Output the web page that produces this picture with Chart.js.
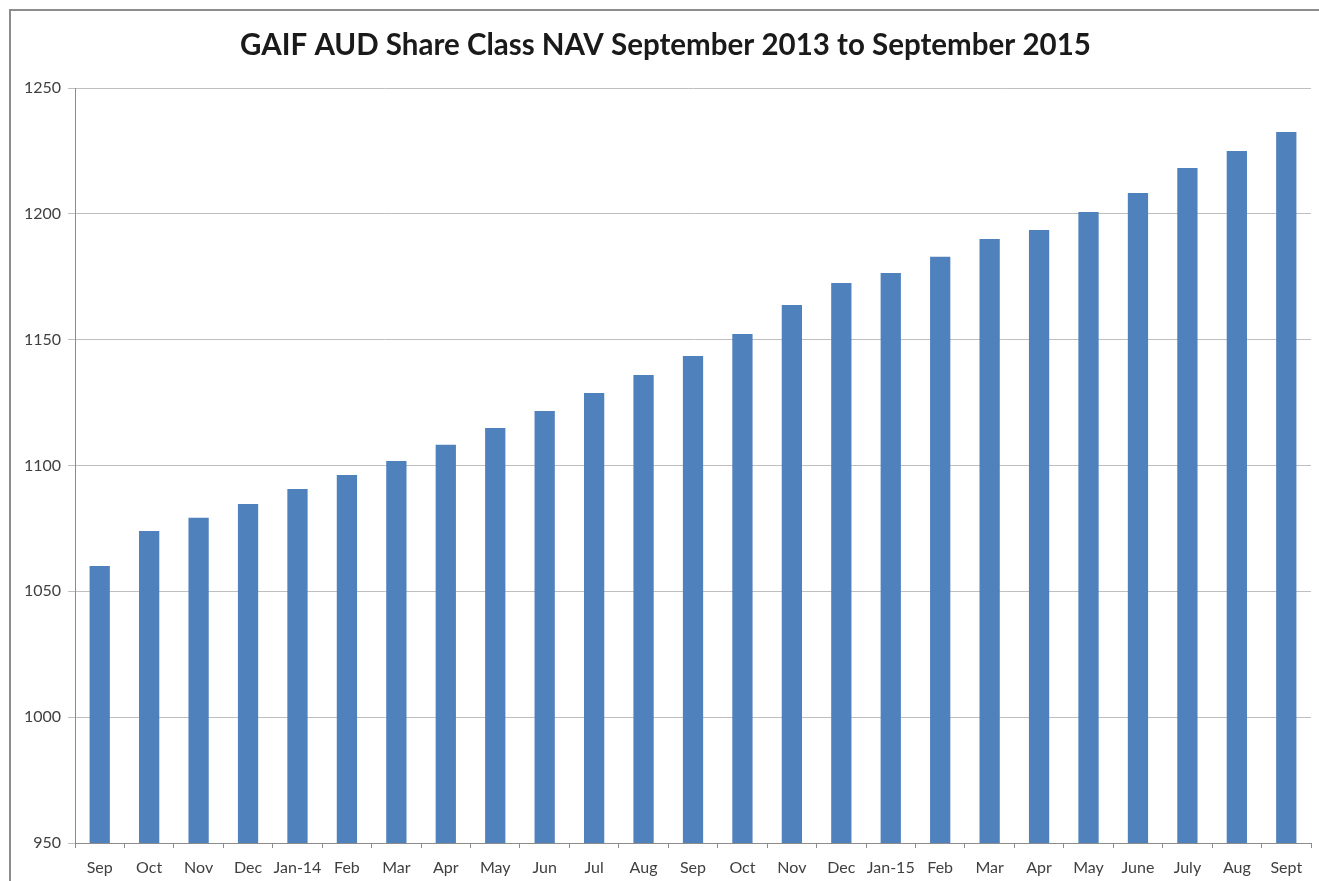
<!DOCTYPE html>
<html>
<head>
<meta charset="utf-8">
<script src="https://cdn.jsdelivr.net/npm/chart.js@4"></script>
<style>
  body { margin: 0; background: #fff; }
  #wrap { position: relative; width: 1319px; height: 881px; }
  #frame { position: absolute; left: 9px; top: 9px; right: -5px; bottom: -5px;
           border-left: 2px solid #8c8c8c; border-top: 2px solid #8c8c8c; pointer-events: none; }
</style>
</head>
<body>
<div id="wrap">
  <canvas id="nav" width="1319" height="881"></canvas>
  <div id="frame"></div>
</div>
<script>
const months = ['Sep', 'Oct', 'Nov', 'Dec', 'Jan-14', 'Feb', 'Mar', 'Apr', 'May', 'Jun', 'Jul', 'Aug',
                'Sep', 'Oct', 'Nov', 'Dec', 'Jan-15', 'Feb', 'Mar', 'Apr', 'May', 'June', 'July', 'Aug', 'Sept'];
const nav_values = [1060.1, 1074, 1079.2, 1084.7, 1090.7, 1096.2, 1101.8, 1108.2, 1114.9, 1121.7, 1128.8, 1136,
                    1143.5, 1152.3, 1163.8, 1172.5, 1176.5, 1182.9, 1190, 1193.6, 1200.7, 1208.3, 1218.2, 1225, 1232.5];
const y_min = 950;
const y_max = 1250;
const y_step = 50;

const tickFont = { family: 'Lato', size: 16 };

const config_nav = {
    type: 'bar',
    data: {
        labels: months,
        datasets: [
            {
                label: 'NAV',
                data: nav_values,
                backgroundColor: '#4f81bd',
                borderWidth: 0,
                barPercentage: 0.41,
                categoryPercentage: 1.0,
            }
        ]
    },
    options: {
        responsive: false,
        animation: false,
        // a bit of left padding nudges the centred title right; y axis width makes up the rest
        layout: { padding: { left: 20, right: 8, top: 0, bottom: 0 } },
        plugins: {
            legend: { display: false },
            tooltip: { enabled: false },
            title: {
                display: true,
                text: 'GAIF AUD Share Class NAV September 2013 to September 2015',
                color: '#1a1a1a',
                font: { family: 'Lato', size: 29.5, weight: 'bold' },
                padding: { top: 28, bottom: 24.6 },
            }
        },
        scales: {
            x: {
                grid: { drawOnChartArea: false, drawTicks: true, tickLength: 5, color: '#8c8c8c' },
                border: { color: '#8c8c8c', width: 1 },
                ticks: { color: '#404040', font: tickFont, padding: 10, maxRotation: 0, autoSkip: false },
                afterFit(scale) { scale.height = 38; },
            },
            y: {
                min: y_min,
                max: y_max,
                grid: { color: '#bfbfbf', lineWidth: 1, drawTicks: true, tickLength: 7 },
                border: { color: '#8c8c8c', width: 1 },
                ticks: {
                    stepSize: y_step, color: '#404040', font: tickFont, padding: 7,
                    callback: (v) => String(v),
                },
                afterFit(scale) { scale.width = 55; },
            }
        }
    }
};

const navChart = new Chart(document.getElementById('nav'), config_nav);
</script>
</body>
</html>
